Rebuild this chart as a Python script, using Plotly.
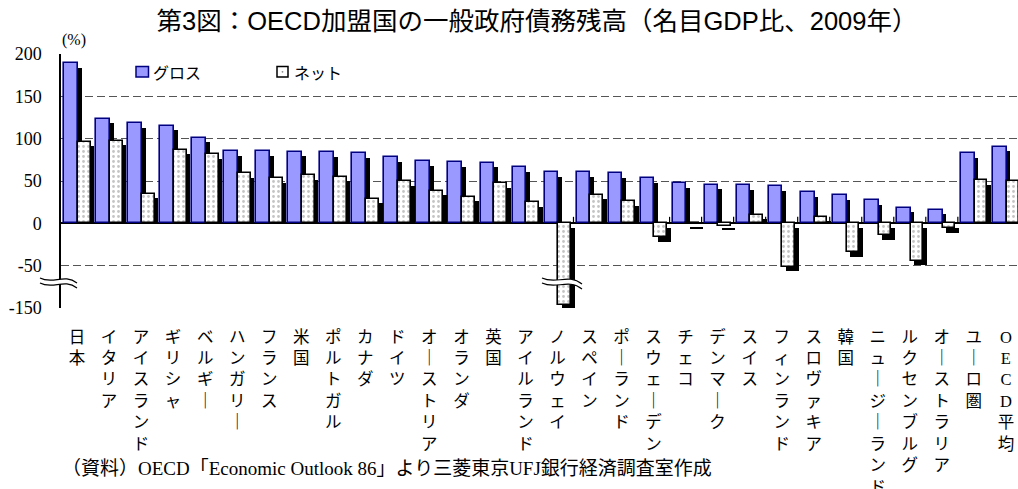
import plotly.graph_objects as go

# ---- data -------------------------------------------------------------
countries = ["日本", "イタリア", "アイスランド", "ギリシャ", "ベルギー", "ハンガリー",
             "フランス", "米国", "ポルトガル", "カナダ", "ドイツ", "オーストリア",
             "オランダ", "英国", "アイルランド", "ノルウェイ", "スペイン", "ポーランド",
             "スウェーデン", "チェコ", "デンマーク", "スイス", "フィンランド", "スロヴァキア",
             "韓国", "ニュージーランド", "ルクセンブルグ", "オーストラリア", "ユーロ圏", "OECD平均"]

gross = [189.3, 123.6, 118.0, 115.2, 101.0, 85.2, 84.9, 84.7, 84.0, 83.0,
         78.0, 73.6, 72.2, 71.5, 66.5, 60.6, 60.3, 59.2, 53.5, 47.3,
         45.7, 44.8, 44.0, 37.0, 33.4, 27.2, 18.5, 16.1, 82.8, 90.7]

net = [96.5, 97.3, 35.2, 86.7, 81.7, 59.2, 53.2, 56.8, 55.2, 28.8,
       49.7, 38.2, 31.5, 47.3, 25.2, -143.0, 33.5, 26.0, -16.6, -1.0,
       -3.0, 10.2, -52.0, 7.5, -34.3, -14.2, -44.2, -5.6, 51.0, 50.0]

y_tick_values = [-150, -50, 0, 50, 100, 150, 200]
series_names = ["グロス", "ネット"]

# ---- axis break: below -50 the scale is compressed by half -------------
BREAK_AT = -50
COMPRESS = 0.5


def to_axis(v):
    return v if v >= BREAK_AT else BREAK_AT + (v - BREAK_AT) * COMPRESS


# ---- geometry ---------------------------------------------------------
FIG_W, FIG_H = 1018, 489
M_L, M_R, M_T, M_B = 61, 0, 54, 181
PLOT_W = FIG_W - M_L - M_R
PLOT_H = FIG_H - M_T - M_B
CAT_PX = 32.03
Y_MIN, Y_MAX = to_axis(-150), 200
X_MIN = -0.5
X_MAX = X_MIN + PLOT_W / CAT_PX
UNIT_PX = PLOT_H / (Y_MAX - Y_MIN)

G_OFF, G_W = -0.403, 0.428
N_OFF, N_W = 0.025, 0.397
SH_DX = 3.7 / CAT_PX
SH_DY = 4.5 / UNIT_PX

x = list(range(len(countries)))
gross_ax = [to_axis(v) for v in gross]
net_ax = [to_axis(v) for v in net]


def shadow(vals):
    base, length = [], []
    for v in vals:
        if v >= 0:
            base.append(0)
            length.append(max(v - SH_DY, 0))
        else:
            base.append(-SH_DY)
            length.append(v)
    return base, length


g_sb, g_sl = shadow(gross_ax)
n_sb, n_sl = shadow(net_ax)

GROSS_FILL = "#9999FF"
GROSS_LINE = "#000080"

fig = go.Figure()

fig.add_trace(go.Bar(x=x, y=g_sl, base=g_sb, offset=G_OFF + SH_DX, width=G_W,
                     marker=dict(color="black", line=dict(width=0)),
                     showlegend=False, hoverinfo="skip"))
fig.add_trace(go.Bar(x=x, y=gross_ax, offset=G_OFF, width=G_W, name=series_names[0],
                     marker=dict(color=GROSS_FILL, line=dict(color=GROSS_LINE, width=1.6)),
                     showlegend=False, customdata=gross,
                     hovertemplate="%{customdata}<extra>グロス</extra>"))
fig.add_trace(go.Bar(x=x, y=n_sl, base=n_sb, offset=N_OFF + SH_DX, width=N_W,
                     marker=dict(color="black", line=dict(width=0)),
                     showlegend=False, hoverinfo="skip"))
fig.add_trace(go.Bar(x=x, y=net_ax, offset=N_OFF, width=N_W, name=series_names[1],
                     marker=dict(color="white", line=dict(color="black", width=1.6),
                                 pattern=dict(shape=".", fgcolor="#8a8a8a", size=5,
                                              solidity=0.25, fillmode="overlay")),
                     showlegend=False, customdata=net,
                     hovertemplate="%{customdata}<extra>ネット</extra>"))


def vertical(name):
    return "<br>".join("｜" if ch == "ー" else ch for ch in name)


SERIF_JP = "Liberation Serif, Noto Sans CJK JP"

fig.update_layout(
    width=FIG_W, height=FIG_H,
    margin=dict(l=M_L, r=M_R, t=M_T, b=M_B, autoexpand=False),
    paper_bgcolor="white", plot_bgcolor="white",
    barmode="overlay",
    bargap=0,
    title=dict(text="第3図：OECD加盟国の一般政府債務残高（名目GDP比、2009年）",
               x=537 / FIG_W, xanchor="center", xref="container",
               y=1 - 21 / FIG_H, yanchor="middle", yref="container",
               font=dict(family="Liberation Sans, Noto Sans CJK JP", size=25.5, color="black")),
    xaxis=dict(range=[X_MIN, X_MAX], tickmode="array", tickvals=x,
               ticktext=[vertical(c) for c in countries], tickangle=0,
               ticks="", showgrid=False, zeroline=False, showline=False,
               ticklabelstandoff=17, automargin=False,
               tickfont=dict(family=SERIF_JP, size=16.5, color="black")),
    yaxis=dict(range=[Y_MIN, Y_MAX], tickmode="array",
               tickvals=[to_axis(v) for v in y_tick_values],
               ticktext=[str(v) for v in y_tick_values],
               showgrid=True, gridcolor="#555555", griddash="8px,4px", gridwidth=1.2,
               zeroline=True, zerolinecolor="black", zerolinewidth=2,
               showline=True, linecolor="black", linewidth=1.5,
               ticks="", ticklabelstandoff=14, automargin=False,
               tickfont=dict(family="Liberation Serif, serif", size=18, color="black")),
    showlegend=False,
)


# ---- pixel helpers for decorations -----------------------------------
def px_x(px):
    return (px - M_L) / PLOT_W


def px_y(py):
    return (FIG_H - M_B - py) / PLOT_H


def wave(x0, y0, w, drop):
    """cubic S-curve in pixel space, returned as list of paper points"""
    pts = [(x0, y0), (x0 + w * 0.35, y0 + 7), (x0 + w * 0.65, y0 - 5), (x0 + w, y0 + drop)]
    return [(px_x(a), px_y(b)) for a, b in pts]


def curve_path(p):
    return "M{},{} C{},{} {},{} {},{}".format(p[0][0], p[0][1], p[1][0], p[1][1],
                                             p[2][0], p[2][1], p[3][0], p[3][1])


def break_mark(x0, y0, w, drop, gap):
    up = wave(x0, y0, w, drop)
    lo = wave(x0, y0 + gap, w, drop)
    fill = ("M{},{} C{},{} {},{} {},{} L{},{} C{},{} {},{} {},{} Z".format(
        up[0][0], up[0][1], up[1][0], up[1][1], up[2][0], up[2][1], up[3][0], up[3][1],
        lo[3][0], lo[3][1], lo[2][0], lo[2][1], lo[1][0], lo[1][1], lo[0][0], lo[0][1]))
    return [
        dict(type="path", xref="paper", yref="paper", path=fill,
             fillcolor="white", line=dict(width=0), layer="above"),
        dict(type="path", xref="paper", yref="paper", path=curve_path(up),
             line=dict(color="black", width=1.2), layer="above"),
        dict(type="path", xref="paper", yref="paper", path=curve_path(lo),
             line=dict(color="black", width=1.2), layer="above"),
    ]


shapes = []
# small category dividers standing on the zero line
for i in range(1, len(countries)):
    shapes.append(dict(type="line", xref="x", yref="y", x0=i - 0.5, x1=i - 0.5,
                       y0=0, y1=6.5 / UNIT_PX, line=dict(color="black", width=1.2)))

# breaks on the value axis and on the ノルウェイ net bar
shapes += break_mark(40, 278, 37, 5, 5)
shapes += break_mark(542, 278, 40, 6, 5)

# legend boxes
shapes.append(dict(type="rect", xref="paper", yref="paper",
                   x0=px_x(136), x1=px_x(148.5), y0=px_y(66.5), y1=px_y(77),
                   fillcolor=GROSS_FILL, line=dict(color=GROSS_LINE, width=1.5)))
shapes.append(dict(type="rect", xref="paper", yref="paper",
                   x0=px_x(277), x1=px_x(288), y0=px_y(66.5), y1=px_y(77),
                   fillcolor="white", line=dict(color="black", width=1.5)))
shapes.append(dict(type="circle", xref="paper", yref="paper",
                   x0=px_x(281.6), x1=px_x(283.4), y0=px_y(70.9), y1=px_y(72.7),
                   fillcolor="#8a8a8a", line=dict(width=0)))
fig.update_layout(shapes=shapes)

annotations = [
    dict(text=series_names[0], xref="paper", yref="paper", x=px_x(151), y=px_y(72),
         xanchor="left", yanchor="middle", showarrow=False,
         font=dict(family="Noto Sans CJK JP", size=16, color="black")),
    dict(text=series_names[1], xref="paper", yref="paper", x=px_x(292), y=px_y(72),
         xanchor="left", yanchor="middle", showarrow=False,
         font=dict(family="Noto Sans CJK JP", size=16, color="black")),
    dict(text="(%)", xref="paper", yref="paper", x=px_x(74), y=px_y(40),
         xanchor="center", yanchor="middle", showarrow=False,
         font=dict(family="Liberation Serif", size=16, color="black")),
    dict(text="（資料）OECD「Economic Outlook 86」より三菱東京UFJ銀行経済調査室作成",
         xref="paper", yref="paper", x=px_x(60), y=px_y(468),
         xanchor="left", yanchor="middle", showarrow=False,
         font=dict(family=SERIF_JP, size=19, color="black")),
]
fig.update_layout(annotations=annotations)

fig.write_html("out.html")
